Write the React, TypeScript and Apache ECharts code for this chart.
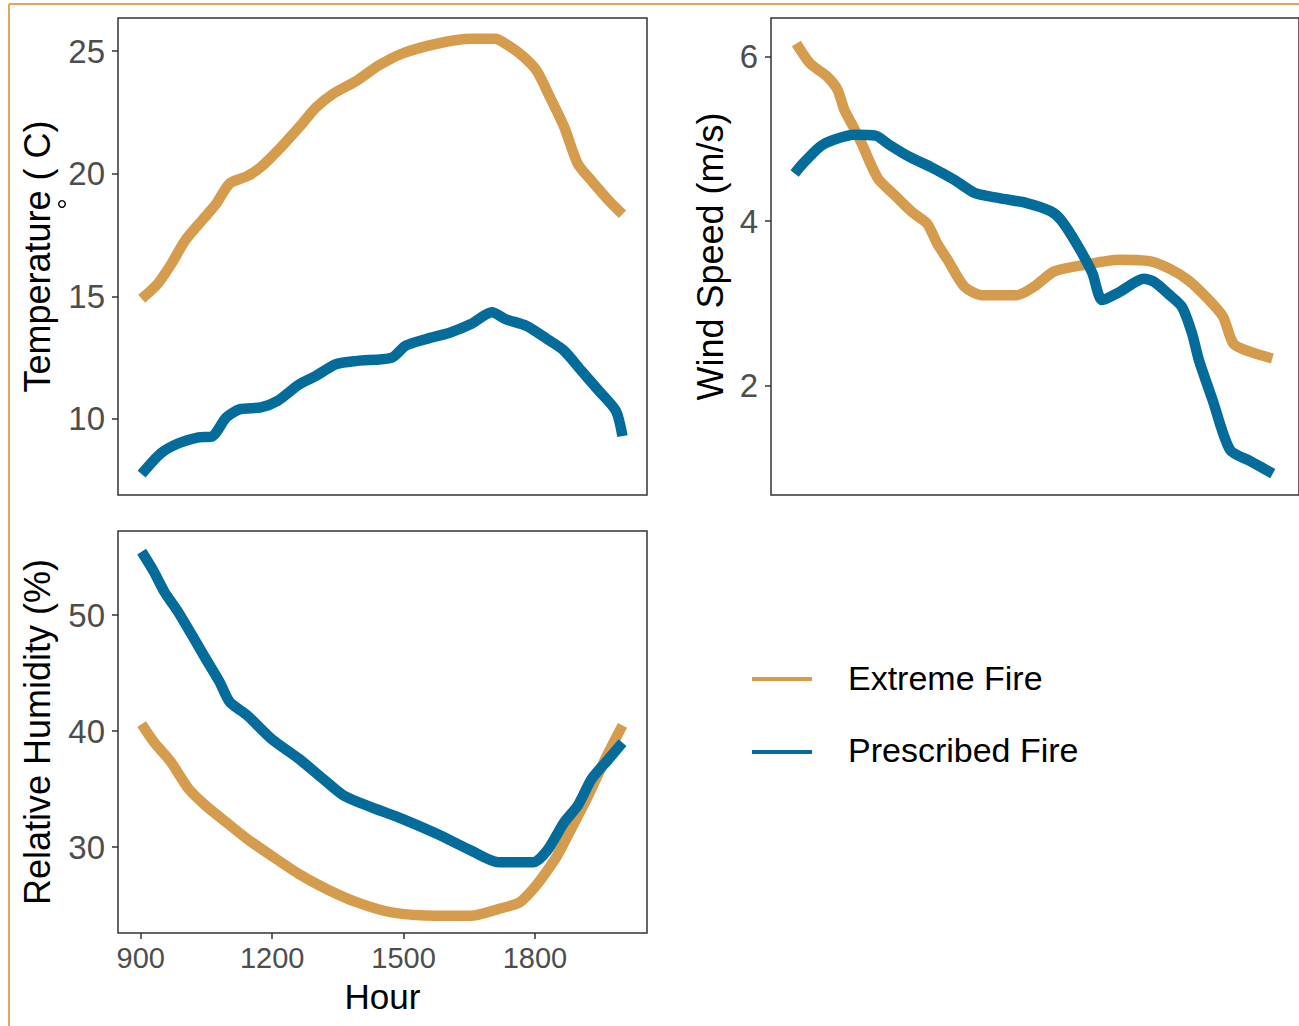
import React, { useEffect, useRef } from "react";
import * as echarts from "echarts";

const xTicks = [900, 1200, 1500, 1800];
const tempTicks = [10, 15, 20, 25];
const windTicks = [2, 4, 6];
const rhTicks = [30, 40, 50];

const seriesNames = ["Extreme Fire", "Prescribed Fire"];
const seriesColors = ["#D69C4E", "#046C9A"];

const tempExtreme: [number, number][] = [
  [902, 14.9], [938, 15.5], [969, 16.3], [1001, 17.27], [1040, 18.1], [1072, 18.77],
  [1103, 19.6], [1143, 19.9], [1174, 20.27], [1221, 21.1], [1268, 22.03], [1300, 22.7],
  [1339, 23.26], [1394, 23.8], [1442, 24.4], [1497, 24.9], [1576, 25.3], [1654, 25.5],
  [1709, 25.5], [1733, 25.3], [1772, 24.8], [1804, 24.2], [1835, 23.1], [1867, 21.9],
  [1898, 20.4], [1930, 19.7], [1969, 18.9], [2000, 18.35],
];
const tempPrescribed: [number, number][] = [
  [902, 7.75], [946, 8.6], [985, 9.0], [1032, 9.25], [1064, 9.3], [1095, 10.06],
  [1127, 10.4], [1174, 10.47], [1213, 10.74], [1261, 11.4], [1300, 11.76], [1347, 12.24],
  [1394, 12.37], [1473, 12.5], [1505, 12.99], [1552, 13.26], [1607, 13.53], [1654, 13.87],
  [1702, 14.35], [1733, 14.07], [1780, 13.8], [1828, 13.26], [1867, 12.78], [1906, 11.97],
  [1946, 11.15], [1985, 10.33], [2000, 9.3],
];
const windExtreme: [number, number][] = [
  [906, 6.16], [937, 5.92], [976, 5.76], [1000, 5.6], [1016, 5.35], [1032, 5.19],
  [1055, 4.95], [1079, 4.66], [1095, 4.5], [1134, 4.3], [1173, 4.1], [1205, 3.97],
  [1228, 3.73], [1252, 3.53], [1291, 3.2], [1331, 3.1], [1410, 3.1], [1449, 3.2],
  [1496, 3.39], [1567, 3.47], [1646, 3.53], [1717, 3.51], [1764, 3.41], [1803, 3.28],
  [1843, 3.08], [1882, 2.84], [1906, 2.51], [1945, 2.41], [1995, 2.33],
];
const windPrescribed: [number, number][] = [
  [902, 4.58], [921, 4.7], [961, 4.91], [992, 4.99], [1039, 5.05], [1087, 5.04],
  [1118, 4.93], [1165, 4.78], [1213, 4.66], [1268, 4.5], [1315, 4.34], [1370, 4.28],
  [1433, 4.22], [1488, 4.12], [1512, 4.01], [1551, 3.69], [1583, 3.37], [1606, 3.04],
  [1646, 3.14], [1701, 3.3], [1725, 3.26], [1756, 3.12], [1788, 2.96], [1811, 2.64],
  [1827, 2.31], [1858, 1.83], [1898, 1.22], [1945, 1.08], [1996, 0.93],
];
const rhExtreme: [number, number][] = [
  [902, 40.6], [930, 39.06], [969, 37.33], [1009, 35.03], [1048, 33.59], [1095, 32.15],
  [1143, 30.71], [1198, 29.27], [1261, 27.69], [1324, 26.4], [1394, 25.24], [1473, 24.38],
  [1576, 24.09], [1654, 24.09], [1717, 24.67], [1765, 25.24], [1796, 26.4], [1820, 27.55],
  [1851, 29.27], [1883, 31.58], [1922, 34.46], [1961, 37.62], [2000, 40.5],
];
const rhPrescribed: [number, number][] = [
  [902, 55.47], [930, 53.74], [954, 52.0], [985, 50.29], [1017, 48.27], [1048, 46.26],
  [1080, 44.24], [1103, 42.52], [1143, 41.36], [1198, 39.35], [1261, 37.62], [1316, 35.9],
  [1363, 34.46], [1426, 33.45], [1497, 32.44], [1576, 31.15], [1654, 29.71], [1717, 28.7],
  [1796, 28.7], [1828, 29.71], [1867, 32.15], [1898, 33.59], [1930, 35.9], [1969, 37.62],
  [2000, 39.0],
];

const FONT = "'Liberation Sans', Arial, sans-serif";
const AXIS_COL = "#333333";
const LABEL_COL = "#4D4D4D";

function xAxis(gridIndex: number, show: boolean) {
  return {
    type: "value",
    gridIndex,
    min: 848,
    max: 2056,
    axisLine: { show: false },
    splitLine: { show: false },
    axisTick: {
      show,
      length: 6,
      customValues: xTicks,
      lineStyle: { color: AXIS_COL, width: 1.5 },
    },
    axisLabel: {
      show,
      customValues: xTicks,
      formatter: (v: number) => String(v),
      color: LABEL_COL,
      fontSize: 29,
      fontFamily: FONT,
      margin: 10,
    },
  };
}

function yAxis(gridIndex: number, min: number, max: number, ticks: number[]) {
  return {
    type: "value",
    gridIndex,
    min,
    max,
    axisLine: { show: false },
    splitLine: { show: false },
    axisTick: {
      show: true,
      length: 6,
      customValues: ticks,
      lineStyle: { color: AXIS_COL, width: 1.5 },
    },
    axisLabel: {
      show: true,
      customValues: ticks,
      formatter: (v: number) => String(v),
      color: LABEL_COL,
      fontSize: 33,
      fontFamily: FONT,
      margin: 13,
    },
  };
}

function line(idx: number, data: [number, number][], k: number) {
  return {
    type: "line",
    name: seriesNames[k],
    xAxisIndex: idx,
    yAxisIndex: idx,
    data,
    showSymbol: false,
    symbol: "none",
    smooth: 0.25,
    lineStyle: { color: seriesColors[k], width: 10.5, join: "round", cap: "butt" },
    itemStyle: { color: seriesColors[k] },
    z: 2 + k,
  };
}

export default function App() {
  const ref = useRef<HTMLDivElement>(null);
  useEffect(() => {
    const chart = echarts.init(ref.current!, null, { renderer: "svg" });
    const gridBase = { show: true, borderColor: AXIS_COL, borderWidth: 1.5, backgroundColor: "#fff" };
    const option: any = {
      animation: false,
      backgroundColor: "#ffffff",
      grid: [
        { ...gridBase, left: 118, top: 18, width: 529, height: 477 },
        { ...gridBase, left: 771, top: 18, width: 529, height: 477 },
        { ...gridBase, left: 118, top: 531, width: 529, height: 402 },
      ],
      xAxis: [xAxis(0, false), xAxis(1, false), xAxis(2, true)],
      yAxis: [
        yAxis(0, 6.9, 26.35, tempTicks),
        yAxis(1, 0.67, 6.47, windTicks),
        yAxis(2, 22.6, 57.25, rhTicks),
      ],
      series: [
        line(0, tempExtreme, 0),
        line(0, tempPrescribed, 1),
        line(1, windExtreme, 0),
        line(1, windPrescribed, 1),
        line(2, rhExtreme, 0),
        line(2, rhPrescribed, 1),
      ],
      graphic: [
        { type: "line", shape: { x1: 9, y1: 4, x2: 1299, y2: 4 }, style: { stroke: "#E2A55E", lineWidth: 2 } },
        { type: "line", shape: { x1: 9, y1: 4, x2: 9, y2: 1026 }, style: { stroke: "#E2A55E", lineWidth: 2 } },
        {
          type: "text", x: 37.5, y: 256.5, rotation: Math.PI / 2,
          style: { text: "Temperature ( C)", font: `36px ${FONT}`, fill: "#000", textAlign: "center", textVerticalAlign: "middle" },
        },
        { type: "circle", shape: { cx: 62, cy: 204, r: 3.3 }, style: { fill: "none", stroke: "#000", lineWidth: 1.4 } },
        {
          type: "text", x: 710, y: 256.5, rotation: Math.PI / 2,
          style: { text: "Wind Speed (m/s)", font: `36px ${FONT}`, fill: "#000", textAlign: "center", textVerticalAlign: "middle" },
        },
        {
          type: "text", x: 37.5, y: 732, rotation: Math.PI / 2,
          style: { text: "Relative Humidity (%)", font: `36px ${FONT}`, fill: "#000", textAlign: "center", textVerticalAlign: "middle" },
        },
        {
          type: "text", x: 382.5, y: 996,
          style: { text: "Hour", font: `35px ${FONT}`, fill: "#000", textAlign: "center", textVerticalAlign: "middle" },
        },
        { type: "line", shape: { x1: 752, y1: 679, x2: 812, y2: 679 }, style: { stroke: seriesColors[0], lineWidth: 4 } },
        { type: "line", shape: { x1: 752, y1: 752, x2: 812, y2: 752 }, style: { stroke: seriesColors[1], lineWidth: 4 } },
        {
          type: "text", x: 848, y: 678,
          style: { text: seriesNames[0], font: `34px ${FONT}`, fill: "#000", textAlign: "left", textVerticalAlign: "middle" },
        },
        {
          type: "text", x: 848, y: 750,
          style: { text: seriesNames[1], font: `34px ${FONT}`, fill: "#000", textAlign: "left", textVerticalAlign: "middle" },
        },
      ],
    };
    chart.setOption(option);
    return () => chart.dispose();
  }, []);
  return (
    <div
      ref={ref}
      style={{ position: "absolute", left: 0, top: 0, width: 1299, height: 1026, background: "#fff" }}
    />
  );
}
